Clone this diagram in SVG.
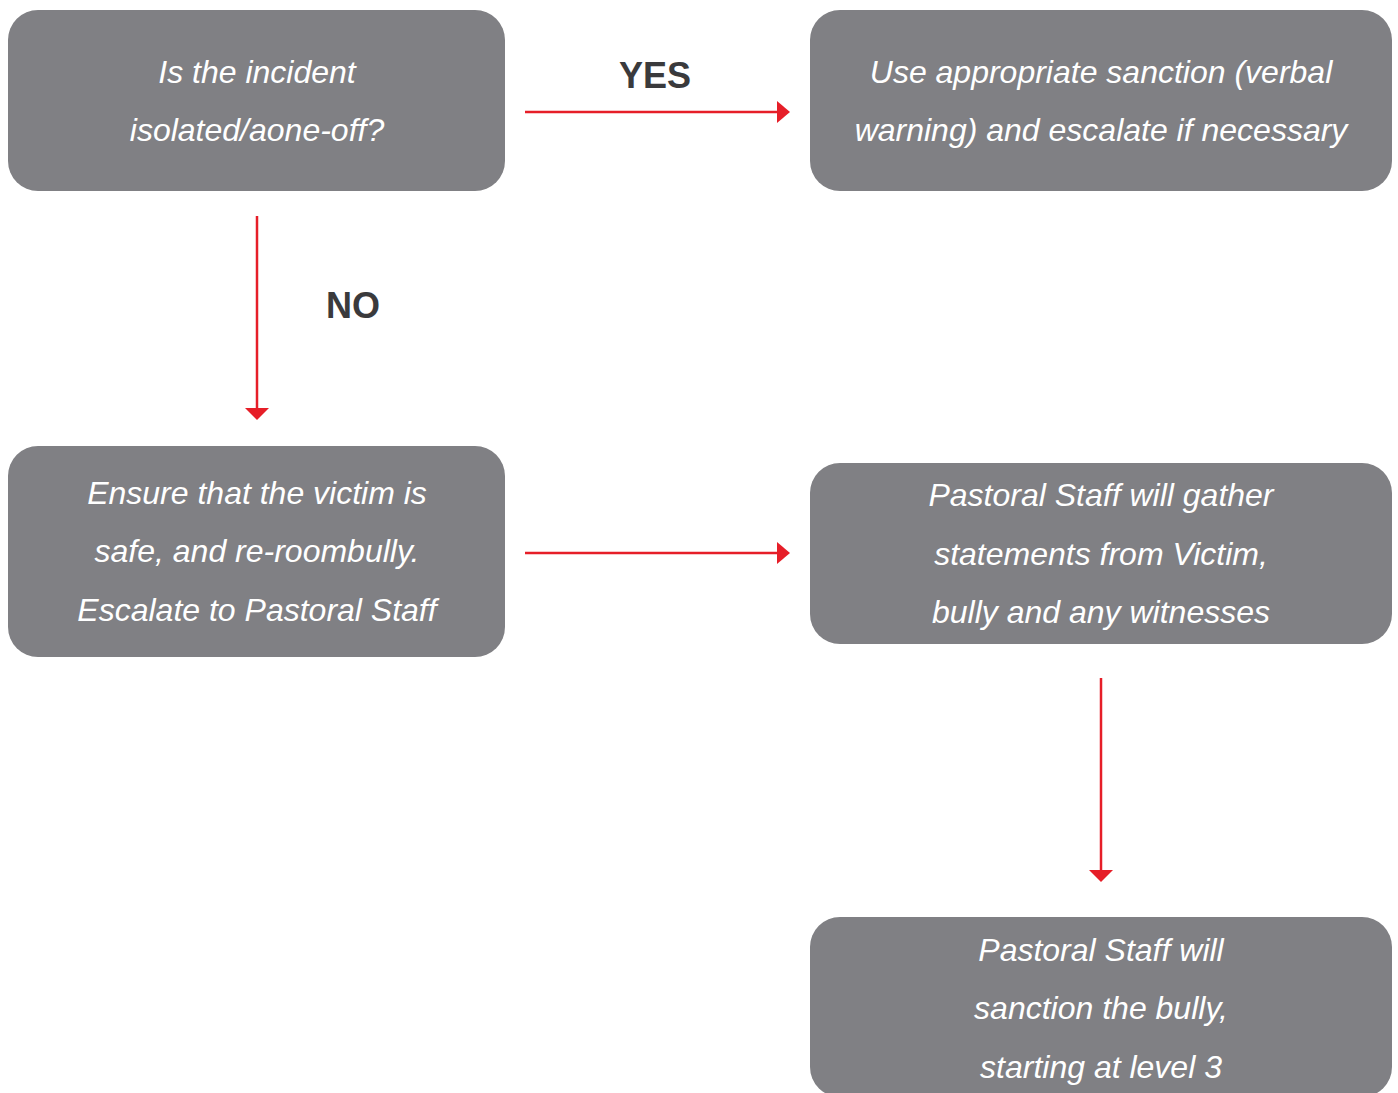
<svg xmlns="http://www.w3.org/2000/svg" width="1398" height="1093" viewBox="0 0 1398 1093">
<style>
.box{fill:#808084;}
.t{font-family:"Liberation Sans",Arial,sans-serif;font-style:italic;font-size:32px;fill:#ffffff;text-anchor:middle;}
.lbl{font-family:"Liberation Sans",Arial,sans-serif;font-weight:bold;font-size:36px;fill:#3a3a3c;text-anchor:middle;}
.c{stroke:#e61e28;stroke-width:2.5;fill:none;}
.h{fill:#e61e28;}
</style>
<rect width="1398" height="1093" fill="#ffffff"/>
<g id="n1">
<rect class="box" x="8" y="10" width="497" height="181" rx="30"/>
<text class="t" x="257" y="83">Is the incident</text>
<text class="t" x="257" y="141">isolated/aone-off?</text>
</g>
<g id="n2">
<rect class="box" x="810" y="10" width="582" height="181" rx="30"/>
<text class="t" x="1101" y="83">Use appropriate sanction (verbal</text>
<text class="t" x="1101" y="141">warning) and escalate if necessary</text>
</g>
<g id="n3">
<rect class="box" x="8" y="446" width="497" height="211" rx="30"/>
<text class="t" x="257" y="504">Ensure that the victim is</text>
<text class="t" x="257" y="562">safe, and re-roombully.</text>
<text class="t" x="257" y="621">Escalate to Pastoral Staff</text>
</g>
<g id="n4">
<rect class="box" x="810" y="463" width="582" height="181" rx="30"/>
<text class="t" x="1101" y="506">Pastoral Staff will gather</text>
<text class="t" x="1101" y="565">statements from Victim,</text>
<text class="t" x="1101" y="623">bully and any witnesses</text>
</g>
<g id="n5">
<rect class="box" x="810" y="917" width="582" height="180" rx="30"/>
<text class="t" x="1101" y="961">Pastoral Staff will</text>
<text class="t" x="1101" y="1019">sanction the bully,</text>
<text class="t" x="1101" y="1078">starting at level 3</text>
</g>
<g id="connectors">
<line class="c" x1="525" y1="112" x2="779" y2="112"/>
<polygon class="h" points="777,101 790,112 777,123"/>
<text class="lbl" x="655" y="88">YES</text>
<line class="c" x1="257" y1="216" x2="257" y2="410"/>
<polygon class="h" points="245,408 269,408 257,420"/>
<text class="lbl" x="353" y="318">NO</text>
<line class="c" x1="525" y1="553" x2="779" y2="553"/>
<polygon class="h" points="777,542 790,553 777,564"/>
<line class="c" x1="1101" y1="678" x2="1101" y2="872"/>
<polygon class="h" points="1089,870 1113,870 1101,882"/>
</g>
</svg>
